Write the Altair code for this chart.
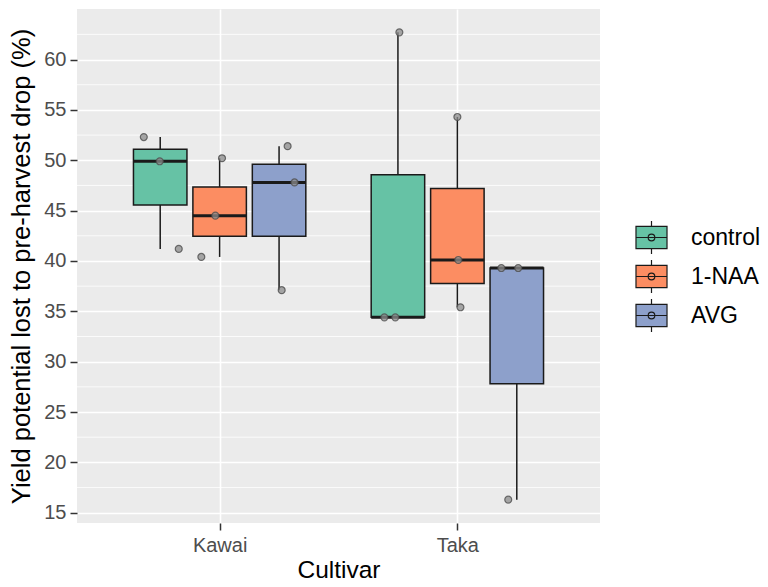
import json
import altair as alt
import numpy as np
import pandas as pd

# ---------------- data ----------------
cultivars = ["Kawai", "Taka"]
treatments = ["control", "1-NAA", "AVG"]
colors = ["#66C2A5", "#FC8D62", "#8DA0CB"]

kawai_control = [52.3, 49.9, 41.2]
kawai_naa = [50.2, 44.5, 40.4]
kawai_avg = [51.4, 47.8, 37.1]
taka_control = [62.7, 34.4, 34.4]
taka_naa = [54.3, 40.1, 35.4]
taka_avg = [39.3, 39.3, 16.3]

# horizontal jitter of each point (fraction of a category step)
jit_kawai_control = [-0.069, -0.002, 0.078]
jit_kawai_naa = [0.010, -0.018, -0.077]
jit_kawai_avg = [0.036, 0.065, 0.011]
jit_taka_control = [0.006, -0.057, -0.011]
jit_taka_naa = [0.0, 0.004, 0.013]
jit_taka_avg = [-0.065, 0.006, -0.036]

y_major = [15, 20, 25, 30, 35, 40, 45, 50, 55, 60]
y_minor = [17.5, 22.5, 27.5, 32.5, 37.5, 42.5, 47.5, 52.5, 57.5, 62.5]

groups = {
    ("Kawai", "control"): (kawai_control, jit_kawai_control),
    ("Kawai", "1-NAA"): (kawai_naa, jit_kawai_naa),
    ("Kawai", "AVG"): (kawai_avg, jit_kawai_avg),
    ("Taka", "control"): (taka_control, jit_taka_control),
    ("Taka", "1-NAA"): (taka_naa, jit_taka_naa),
    ("Taka", "AVG"): (taka_avg, jit_taka_avg),
}

DODGE = 0.25      # dodge step (0.75 / 3)
HALF_W = 0.1125   # half box width (dodge2 padding 0.1)

pts, boxes = [], []
for (cv, tr), (vals, jit) in groups.items():
    center = cultivars.index(cv) + 1 + (treatments.index(tr) - 1) * DODGE
    v = np.array(vals)
    q1, med, q3 = np.percentile(v, [25, 50, 75])
    boxes.append(dict(cultivar=cv, treatment=tr, center=center,
                      left=center - HALF_W, right=center + HALF_W,
                      lo=v.min(), q1=q1, median=med, q3=q3, hi=v.max()))
    for val, j in zip(vals, jit):
        pts.append(dict(cultivar=cv, treatment=tr, value=val, xp=center + j))

pts_df = pd.DataFrame(pts)
box_df = pd.DataFrame(boxes)
minor_df = pd.DataFrame({"v": y_minor})

all_vals = pts_df["value"]
rng = all_vals.max() - all_vals.min()
y_dom = [all_vals.min() - 0.05 * rng, all_vals.max() + 0.05 * rng]

FONT = "Liberation Sans"
xscale = alt.Scale(domain=[0.4, 2.6], nice=False, zero=False)
yscale = alt.Scale(domain=y_dom, nice=False, zero=False)

label_expr = f"{json.dumps(cultivars)}[datum.value - 1]"
x_axis = alt.Axis(values=[1, 2], labelExpr=label_expr, title="Cultivar",
                  grid=True, gridColor="white", gridWidth=1.6,
                  domain=False, tickColor="#333333", tickSize=7, tickWidth=1.5,
                  labelColor="#4D4D4D", labelFontSize=20, labelPadding=5,
                  titleFontSize=24.5, titleFontWeight="normal", titleColor="black",
                  titlePadding=3, labelFont=FONT, titleFont=FONT)
y_axis = alt.Axis(values=y_major, title="Yield potential lost to pre-harvest drop (%)",
                  grid=True, gridColor="white", gridWidth=1.6,
                  domain=False, tickColor="#333333", tickSize=7, tickWidth=1.5,
                  labelColor="#4D4D4D", labelFontSize=20, labelPadding=4,
                  titleFontSize=25.5, titleFontWeight="normal", titleColor="black",
                  titlePadding=9, labelFont=FONT, titleFont=FONT)

def X(field):
    return alt.X(field, type="quantitative", scale=xscale, axis=x_axis)

def Y(field):
    return alt.Y(field, type="quantitative", scale=yscale, axis=y_axis)

legend_path = ("M-0.94,-0.67H0.94V0.67H-0.94Z M-0.94,0H0.94 M0,-0.67V-1 M0,0.67V1 "
               "M-0.2,0A0.2,0.2,0,1,1,0.2,0A0.2,0.2,0,1,1,-0.2,0")

color = alt.Color("treatment:N",
                  scale=alt.Scale(domain=treatments, range=colors),
                  legend=alt.Legend(title=None, orient="none", legendX=557, legendY=211,
                                    symbolType=legend_path, symbolSize=1089,
                                    symbolStrokeColor="#1A1A1A", symbolStrokeWidth=1.2,
                                    symbolOpacity=1,
                                    labelFontSize=23, labelColor="black", labelFont=FONT,
                                    labelOffset=22, rowPadding=0, padding=0))

minor = alt.Chart(minor_df).mark_rule(color="white", strokeWidth=0.8).encode(y=Y("v"))

box = alt.Chart(box_df).mark_bar(stroke="#1A1A1A", strokeWidth=1.5, opacity=1).encode(
    x=X("left"), x2="right", y=Y("q1"), y2="q3", color=color)

wh_hi = alt.Chart(box_df).mark_rule(color="#1A1A1A", strokeWidth=1.5).encode(
    x=X("center"), y=Y("q3"), y2="hi")
wh_lo = alt.Chart(box_df).mark_rule(color="#1A1A1A", strokeWidth=1.5).encode(
    x=X("center"), y=Y("lo"), y2="q1")
med = alt.Chart(box_df).mark_rule(color="#1A1A1A", strokeWidth=3).encode(
    x=X("left"), x2="right", y=Y("median"))

points = alt.Chart(pts_df).mark_point(shape="circle", filled=True, fill="#8C8C8C",
                                       fillOpacity=0.75, stroke="#4D4D4D",
                                       strokeOpacity=0.8, strokeWidth=1.2,
                                       size=48).encode(
    x=X("xp"), y=Y("value"))

wh = alt.layer(wh_hi, wh_lo)
chart = alt.layer(minor, wh, box, med, points).properties(
    width=523, height=514,
    padding={"left": 69, "top": 1, "right": 160, "bottom": 56},
    autosize=alt.AutoSizeParams(type="none"),
).configure(
    font=FONT,
    view=alt.ViewConfig(fill="#EBEBEB", stroke=None),
)

chart.save("out.html", embed_options={"renderer": "svg", "actions": False})
